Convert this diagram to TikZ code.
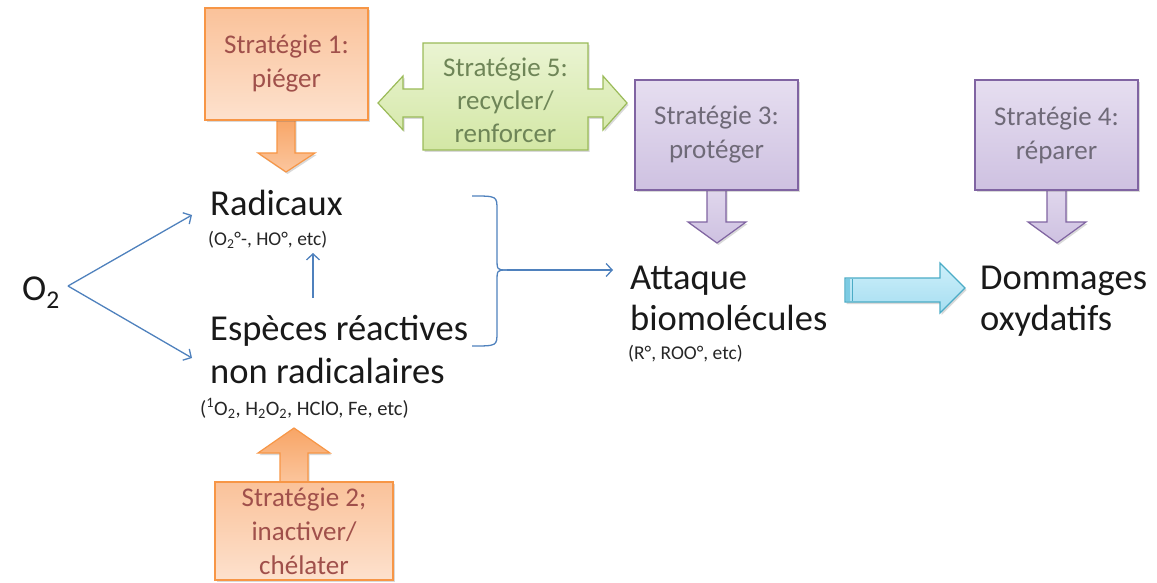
\documentclass[tikz,border=0pt]{standalone}
\usepackage{fontspec}
\setmainfont{Carlito}
\usetikzlibrary{arrows.meta,shadows}
\definecolor{blu}{HTML}{4F81BD}
\definecolor{orgb}{HTML}{F79646}
\definecolor{orgtop}{HTML}{FAC29A}
\definecolor{orgbot}{HTML}{FDE1CD}
\definecolor{orgartop}{HTML}{F8A566}
\definecolor{orgarbot}{HTML}{FBC69E}
\definecolor{orgtxt}{HTML}{A0504B}
\definecolor{grnb}{HTML}{9BBB59}
\definecolor{grntop}{HTML}{EAF4D2}
\definecolor{grnbot}{HTML}{D3E7A5}
\definecolor{grntxt}{HTML}{6E8557}
\definecolor{purb}{HTML}{8064A2}
\definecolor{purtop}{HTML}{E6DEF0}
\definecolor{purbot}{HTML}{CEC1E1}
\definecolor{purtxt}{HTML}{6F6A78}
\definecolor{cyb}{HTML}{4BACC6}
\definecolor{cytop}{HTML}{CDEFFA}
\definecolor{cybot}{HTML}{A6DEF1}
\definecolor{cydark}{HTML}{7CCBE3}
\begin{document}
\begin{tikzpicture}[x=1pt,y=-1pt,
  main/.style={font=\fontsize{36.5}{43}\selectfont, text=black!90, inner sep=0pt, anchor=base west},
  small/.style={font=\fontsize{19.5}{22}\selectfont, text=black!85, inner sep=0pt, anchor=base west},
  bline/.style={draw=blu, line width=1.3pt},
  conn/.style={bline, -{Straight Barb[length=6pt,width=13pt]}},
  shad/.style={drop shadow={opacity=0.25, shadow xshift=1.5pt, shadow yshift=-2pt, fill=black!60}},
  strat/.style={font=\fontsize{27}{34}\selectfont, align=center, inner sep=0pt, line width=1.2pt, shad},
  orangebox/.style={strat, draw=orgb, top color=orgtop, bottom color=orgbot, text=orgtxt},
  orangearrow/.style={draw=orgb, line width=1.2pt, top color=orgartop, bottom color=orgarbot, shad},
  greenshape/.style={draw=grnb, line width=1.2pt, top color=grntop, bottom color=grnbot, shad},
  purplebox/.style={strat, draw=purb, top color=purtop, bottom color=purbot, text=purtxt},
  purplearrow/.style={draw=purb, line width=1.2pt, top color=purtop!80!purbot, bottom color=purbot, shad},
  cyanarrow/.style={draw=cyb, line width=1.2pt, top color=cytop, bottom color=cybot, shad}
]
\useasboundingbox (0,0) rectangle (1157,583);

% ---------- strategy 1 ----------
\path[orangearrow] (277,118) -- (295,118) -- (295,153) -- (315,153) -- (286,172) -- (258,153) -- (277,153) -- cycle;
\node[orangebox, minimum width=163pt, minimum height=112pt] (s1) at (286.5,64) {Stratégie 1:\\piéger};

% ---------- strategy 2 ----------
\path[orangearrow] (280,484) -- (308,484) -- (308,453) -- (330,453) -- (294,428) -- (258,453) -- (280,453) -- cycle;
\node[orangebox, minimum width=178pt, minimum height=98pt] (s2) at (304,531) {Stratégie 2;\\inactiver/\\chélater};

% ---------- strategy 5 (double arrow) ----------
\path[greenshape] (423,43) -- (588,43) -- (588,89) -- (603,89) -- (603,76) -- (627,103) -- (603,130) -- (603,117) -- (588,117)
  -- (588,150) -- (423,150) -- (423,117) -- (403,117) -- (403,130) -- (378,103) -- (403,76) -- (403,89) -- (423,89) -- cycle;
\node[font=\fontsize{27}{33}\selectfont, align=center, text=grntxt, inner sep=0pt] (s5) at (505.5,100) {Stratégie 5:\\recycler/\\renforcer};

% ---------- strategy 3 ----------
\path[purplearrow] (707,186) -- (726,186) -- (726,222) -- (746,222) -- (717,243) -- (688,222) -- (707,222) -- cycle;
\node[purplebox, minimum width=163pt, minimum height=110pt] (s3) at (716.5,135) {Stratégie 3:\\protéger};

% ---------- strategy 4 ----------
\path[purplearrow] (1047,186) -- (1066,186) -- (1066,222) -- (1086,222) -- (1057,243) -- (1028,222) -- (1047,222) -- cycle;
\node[purplebox, minimum width=163pt, minimum height=110pt] (s4) at (1056.5,135) {Stratégie 4:\\réparer};

% ---------- texts ----------
\node[main] (o2) at (22,300) {O\textsubscript{2}};
\node[main] (rad) at (210,215) {Radicaux};
\node[small] (radsub) at (208,245) {(O\textsubscript{2}°-, HO°, etc)};
\node[main] (esp1) at (210,340) {Espèces réactives};
\node[main] (esp2) at (210,383) {non radicalaires};
\node[small, font=\fontsize{20.5}{23}\selectfont] (espsub) at (200,415) {(\textsuperscript{1}O\textsubscript{2}, H\textsubscript{2}O\textsubscript{2}, HClO, Fe, etc)};
\node[main] (att1) at (630,289) {Attaque};
\node[main] (att2) at (630,330) {biomolécules};
\node[small] (attsub) at (628,359) {(R°, ROO°, etc)};
\node[main] (dom1) at (980,289) {Dommages};
\node[main] (dom2) at (980,330) {oxydatifs};

% ---------- blue connectors ----------
\coordinate (o2v) at (68,286);
\coordinate (radin) at (192,215);
\coordinate (espin) at (192,358);
\coordinate (espup) at (313,298);
\coordinate (radbot) at (313,253);
\coordinate (brtop) at (472,196);
\coordinate (brbot) at (472,346);
\coordinate (brmid) at (507,270);
\coordinate (attin) at (613,270);
\draw[conn] (o2v) -- (radin);
\draw[conn] (o2v) -- (espin);
\draw[conn] (espup) -- (radbot);
\draw[bline] (brtop) .. controls (497,196) .. (497,210) -- (497,258) .. controls (497,270) .. (brmid);
\draw[bline] (brbot) .. controls (497,346) .. (497,332) -- (497,282) .. controls (497,270) .. (brmid);
\draw[conn] (brmid) -- (attin);

% ---------- big cyan arrow ----------
\path[cyanarrow] (845,278) -- (940,278) -- (940,263) -- (965,288) -- (940,313) -- (940,302) -- (845,302) -- cycle;
\fill[cydark] (846,279) rectangle (850,301);
\draw[cyb, line width=0.8pt] (852,279) -- (852,301);
\end{tikzpicture}
\end{document}
